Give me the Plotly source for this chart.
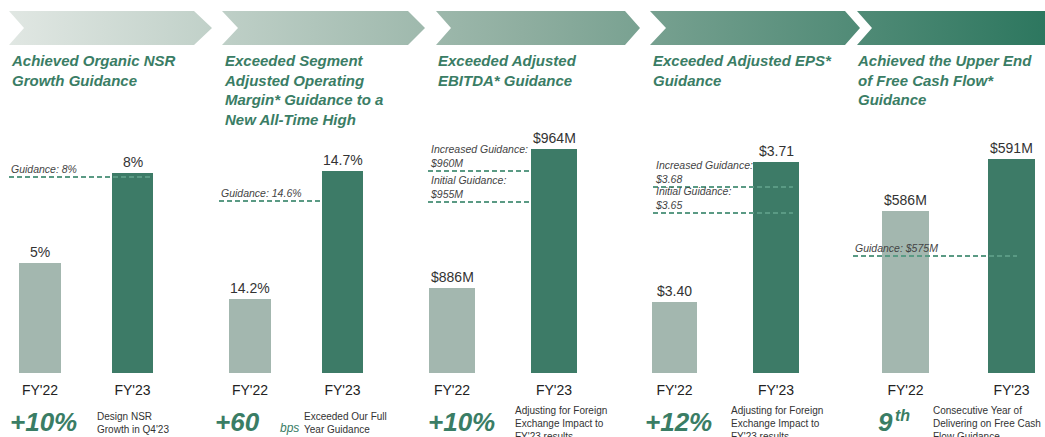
import plotly.graph_objects as go

W, H = 1045, 437
FONT = "Liberation Sans, Arial, Helvetica, sans-serif"
GREEN_TXT = "#3a7d65"
LIGHT_BAR = "#a3b7af"
DARK_BAR = "#3d7b67"
DASH_COL = "#5a9a84"

# ---------------- data ----------------
categories = ["FY'22", "FY'23"]
nsr_growth = [5, 8]
nsr_guidance = [8]
op_margin = [14.2, 14.7]
op_margin_guidance = [14.6]
ebitda = [886, 964]
ebitda_guidance = [960, 955]
eps = [3.40, 3.71]
eps_guidance = [3.68, 3.65]
fcf = [586, 591]
fcf_guidance = [575]

titles = [
    "Achieved Organic NSR<br>Growth Guidance",
    "Exceeded Segment<br>Adjusted Operating<br>Margin* Guidance to a<br>New All-Time High",
    "Exceeded Adjusted<br>EBITDA* Guidance",
    "Exceeded Adjusted EPS*<br>Guidance",
    "Achieved the Upper End<br>of Free Cash Flow*<br>Guidance",
]
highlights = ["+10%", "+60", "+10%", "+12%", "9"]
highlight_units = [None, "bps", None, None, "th"]
notes = [
    "Design NSR<br>Growth in Q4'23",
    "Exceeded Our Full<br>Year Guidance",
    "Adjusting for Foreign<br>Exchange Impact to<br>FY'23 results",
    "Adjusting for Foreign<br>Exchange Impact to<br>FY'23 results",
    "Consecutive Year of<br>Delivering on Free Cash<br>Flow Guidance",
]

panels = [
    dict(vals=nsr_growth, fmt=lambda v: f"{v:g}%",
         guide=nsr_guidance, gtext=lambda g, i: f"Guidance: {g:g}%"),
    dict(vals=op_margin, fmt=lambda v: f"{v:.1f}%",
         guide=op_margin_guidance, gtext=lambda g, i: f"Guidance: {g:.1f}%"),
    dict(vals=ebitda, fmt=lambda v: f"${v:g}M",
         guide=ebitda_guidance,
         gtext=lambda g, i: ["Increased Guidance:", "Initial Guidance:"][i] + f"<br>${g:g}M"),
    dict(vals=eps, fmt=lambda v: f"${v:.2f}",
         guide=eps_guidance,
         gtext=lambda g, i: ["Increased Guidance:", "Initial Guidance:"][i] + f"<br>${g:.2f}"),
    dict(vals=fcf, fmt=lambda v: f"${v:g}M",
         guide=fcf_guidance, gtext=lambda g, i: f"Guidance: ${g:g}M"),
]

# ---------------- layout geometry (pixels / axis settings) ----------------
PLOT_TOP, PLOT_BOTTOM = 120, 373
ydom = [1 - PLOT_BOTTOM / H, 1 - PLOT_TOP / H]

geo = [
    dict(c0=40, s=92.5, xl=-0.4, xr=1.3, bw=0.45, yr=[1.333, 9.767], gr=[1.467, 9.9], span=[-0.335, 1.222]),
    dict(c0=250, s=92.5, xl=-0.4, xr=1.3, bw=0.45, yr=[13.911, 14.899], gr=[13.928, 14.916], span=[-0.335, 0.775]),
    dict(c0=452, s=102, xl=-0.4, xr=1.3, bw=0.45, yr=[838.30, 980.27], gr=[927.42, 968.23], span=[-0.235, 0.775]),
    dict(c0=674.5, s=101.5, xl=-0.4, xr=1.3, bw=0.45, yr=[3.2428, 3.8030], gr=[3.4654, 3.7573], span=[-0.212, 1.167]),
    dict(c0=905.5, s=106, xl=-0.5, xr=1.3, bw=0.445, yr=[570.42, 594.75], gr=[563.75, 588.08], span=[-0.495, 1.052]),
]
title_x = [9, 222, 436, 651, 855]
hl_x = [8, 213, 426, 643, 876]
unit_pos = [None, (278, 428, 12, "normal"), None, None, (893, 415, 16, "bold")]
note_x = [95, 302, 513, 729, 931]

fig = go.Figure()
layout = dict(
    width=W, height=H, margin=dict(l=0, r=0, t=0, b=0),
    paper_bgcolor="white", plot_bgcolor="rgba(0,0,0,0)",
    showlegend=False, hovermode=False,
    font=dict(family=FONT, color="#333333"),
)
annotations = []

# ---------------- chevron header band ----------------
chev = [
    (9, 24, 194, 212),
    (222, 238, 408, 425),
    (436, 451, 625, 640),
    (650, 666, 845, 860),
    (857, 872, 1045, 1045),
]
top_y, bot_y = 11, 45
mid_y = (top_y + bot_y) / 2
for tl, nt, tr, pt in chev:
    fig.add_trace(go.Scatter(
        x=[tl, tr, pt, tr, tl, nt, tl],
        y=[top_y, top_y, mid_y, bot_y, bot_y, mid_y, top_y],
        mode="lines", line=dict(width=0), fill="toself",
        fillgradient=dict(type="horizontal", start=0, stop=W,
                          colorscale=[[0, "#e2e8e4"], [0.5, "#8faea0"], [1, "#2d775f"]]),
        xaxis="x6", yaxis="y11", hoverinfo="skip",
    ))
layout["xaxis6"] = dict(domain=[0, 1], range=[0, W], visible=False, anchor="y11", fixedrange=True)
layout["yaxis11"] = dict(domain=[0, 1], range=[H, 0], visible=False, anchor="x6", fixedrange=True)

# ---------------- panels ----------------
for k, (p, g) in enumerate(zip(panels, geo), start=1):
    xa = f"x{k}" if k > 1 else "x"
    ya = f"y{k}" if k > 1 else "y"
    gk = k + 5
    xdom = [(g["c0"] + g["xl"] * g["s"]) / W, (g["c0"] + g["xr"] * g["s"]) / W]
    layout[f"xaxis{k}"] = dict(
        domain=xdom, range=[g["xl"], g["xr"]], anchor=ya,
        tickvals=[0, 1], ticktext=categories, ticks="", showgrid=False,
        zeroline=False, showline=False, ticklabelstandoff=7,
        tickfont=dict(size=14, color="#222222", family=FONT), fixedrange=True,
    )
    layout[f"yaxis{k}"] = dict(domain=ydom, range=g["yr"], anchor=xa, visible=False,
                               showgrid=False, zeroline=False, fixedrange=True)
    layout[f"yaxis{gk}"] = dict(domain=ydom, range=g["gr"], anchor=xa, overlaying=ya,
                                visible=False, showgrid=False, zeroline=False, fixedrange=True)

    fig.add_trace(go.Bar(
        x=[0, 1], y=p["vals"], width=g["bw"],
        marker=dict(color=[LIGHT_BAR, DARK_BAR], line=dict(width=0)),
        xaxis=xa, yaxis=ya, hoverinfo="skip",
    ))
    for i, v in enumerate(p["vals"]):
        annotations.append(dict(
            x=i, y=v, xref=xa, yref=ya, text=p["fmt"](v), showarrow=False,
            xanchor="center", yanchor="bottom", yshift=1,
            font=dict(size=14, color="#333333", family=FONT),
        ))
    for i, gv in enumerate(p["guide"]):
        fig.add_trace(go.Scatter(
            x=g["span"], y=[gv, gv], mode="lines",
            line=dict(color=DASH_COL, width=2, dash="5px,3px"),
            xaxis=xa, yaxis=f"y{gk}", hoverinfo="skip", cliponaxis=False,
        ))
        annotations.append(dict(
            x=g["span"][0], y=gv, xref=xa, yref=f"y{gk}", text=p["gtext"](gv, i),
            showarrow=False, xanchor="left", yanchor="bottom", align="left", yshift=0,
            font=dict(size=10.5, color="#444444", family=FONT, style="italic"),
        ))

    # title
    annotations.append(dict(
        x=title_x[k - 1] / W, y=1 - 50 / H, xref="paper", yref="paper",
        text=titles[k - 1], showarrow=False, xanchor="left", yanchor="top", align="left",
        font=dict(size=15, color=GREEN_TXT, family=FONT, weight="bold", style="italic"),
    ))
    # highlight number
    annotations.append(dict(
        x=hl_x[k - 1] / W, y=1 - 422 / H, xref="paper", yref="paper",
        text=highlights[k - 1], showarrow=False, xanchor="left", yanchor="middle",
        font=dict(size=26, color=GREEN_TXT, family=FONT, weight="bold", style="italic"),
    ))
    if highlight_units[k - 1]:
        ux, uy, us, uw = unit_pos[k - 1]
        annotations.append(dict(
            x=ux / W, y=1 - uy / H, xref="paper", yref="paper",
            text=highlight_units[k - 1], showarrow=False, xanchor="left", yanchor="middle",
            font=dict(size=us, color=GREEN_TXT, family=FONT, weight=uw, style="italic"),
        ))
    # note
    annotations.append(dict(
        x=note_x[k - 1] / W, y=1 - 423 / H, xref="paper", yref="paper",
        text=notes[k - 1], showarrow=False, xanchor="left", yanchor="middle", align="left",
        font=dict(size=10, color="#333333", family=FONT),
    ))

layout["annotations"] = annotations
layout["bargap"] = 0
fig.update_layout(**layout)
fig.write_html(
    "out.html",
    config={"displayModeBar": False, "staticPlot": True},
    post_script="document.body.style.margin='0';document.body.style.overflow='hidden';",
)
